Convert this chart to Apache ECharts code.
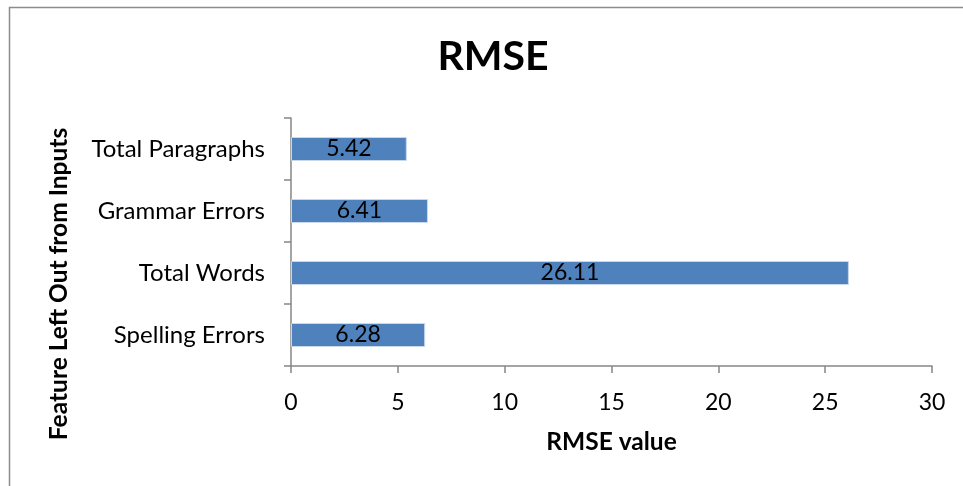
<!DOCTYPE html>
<html>
<head>
<meta charset="utf-8">
<script src="https://cdn.jsdelivr.net/npm/echarts@6/dist/echarts.min.js"></script>
<style>
  html, body { margin: 0; padding: 0; background: #ffffff; }
  #chart { width: 963px; height: 486px; }
</style>
</head>
<body>
<div id="chart"></div>
<script>
// Features left out of the model inputs (listed bottom to top on the axis)
const categories = ['Spelling Errors', 'Total Words', 'Grammar Errors', 'Total Paragraphs'];
// RMSE obtained when each feature is left out
const rmseValues = [6.28, 26.11, 6.41, 5.42];
// Value axis ticks
const xTicks = [0, 5, 10, 15, 20, 25, 30];

const FONT = 'Lato, "Open Sans", sans-serif';
const AXIS_GRAY = '#868686';

const chart = echarts.init(document.getElementById('chart'), null, { renderer: 'canvas' });

chart.setOption({
  backgroundColor: '#ffffff',
  animation: false,
  title: {
    text: 'RMSE',
    left: 488,
    top: 31,
    textAlign: 'center',
    textStyle: { fontFamily: FONT, fontSize: 41, fontWeight: 'bold', color: '#000' }
  },
  graphic: [
    {
      type: 'rect',
      shape: { x: 9.5, y: 7.5, width: 1000, height: 600 },
      style: { fill: 'none', stroke: '#8c8c8c', lineWidth: 1.5 },
      silent: true
    },
    {
      type: 'text',
      x: 59,
      y: 284,
      rotation: Math.PI / 2,
      style: {
        text: 'Feature Left Out from Inputs',
        fontFamily: FONT,
        fontSize: 24.5,
        fontWeight: 'bold',
        fill: '#000',
        textAlign: 'center',
        textVerticalAlign: 'middle'
      }
    }
  ],
  grid: { left: 291, right: 31, top: 118, bottom: 120, containLabel: false },
  xAxis: {
    type: 'value',
    min: xTicks[0],
    max: xTicks[xTicks.length - 1],
    interval: 5,
    name: 'RMSE value',
    nameLocation: 'middle',
    nameGap: 64,
    nameTextStyle: { fontFamily: FONT, fontSize: 24.5, fontWeight: 'bold', color: '#000' },
    axisLine: { show: true, lineStyle: { color: AXIS_GRAY, width: 1.5 } },
    axisTick: { show: true, length: 7, lineStyle: { color: AXIS_GRAY, width: 1.5 } },
    axisLabel: { fontFamily: FONT, fontSize: 23, color: '#000', margin: 25 },
    splitLine: { show: false }
  },
  yAxis: {
    type: 'category',
    data: categories,
    axisLine: { show: true, lineStyle: { color: AXIS_GRAY, width: 1.5 } },
    axisTick: { show: true, length: 7, alignWithLabel: false, lineStyle: { color: AXIS_GRAY, width: 1.5 } },
    axisLabel: { fontFamily: FONT, fontSize: 24, color: '#000', margin: 26 },
    splitLine: { show: false }
  },
  series: [{
    type: 'bar',
    data: rmseValues,
    barWidth: 24,
    itemStyle: { color: '#4F81BD', borderColor: '#c9d7ea', borderWidth: 1 },
    label: {
      show: true,
      position: 'inside',
      fontFamily: FONT,
      fontSize: 23,
      color: '#000',
      formatter: p => p.value.toFixed(2)
    }
  }]
});
</script>
</body>
</html>
